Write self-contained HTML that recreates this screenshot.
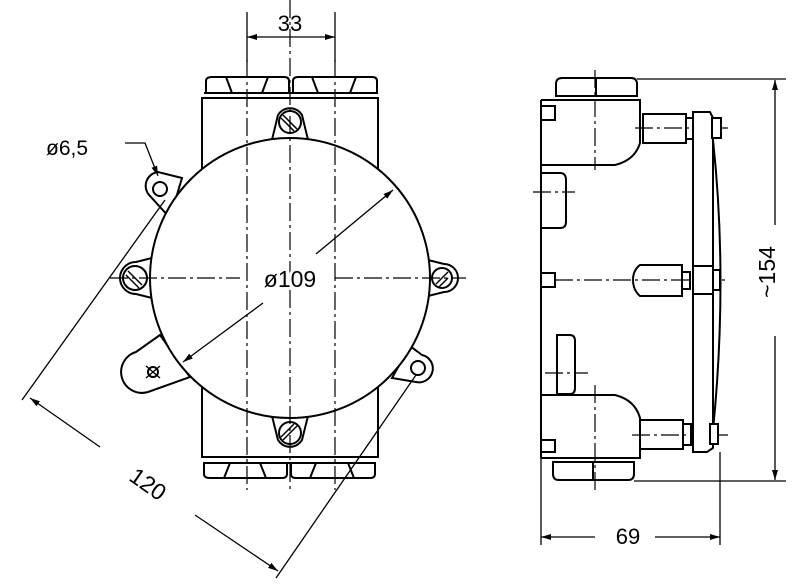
<!DOCTYPE html>
<html><head><meta charset="utf-8"><style>
html,body{margin:0;padding:0;background:#fff;}
svg{display:block;}
text{font-family:"Liberation Sans",sans-serif;fill:#000;}
</style></head><body>
<svg width="800" height="587" viewBox="0 0 800 587" xmlns="http://www.w3.org/2000/svg">
<defs>
<marker id="a" viewBox="0 0 10 10" refX="10" refY="5" markerWidth="10" markerHeight="10" orient="auto-start-reverse" markerUnits="userSpaceOnUse"><path d="M0,2 L10,5 L0,8 z" fill="#000"/></marker>
</defs>
<g fill="none" stroke="#000" stroke-width="2">
<rect x="202" y="98" width="176" height="359"/>
<path d="M206,93 L206,81 Q206,77 212,77 L284,77 Q289,77 289,81 L289,93 Z"/>
<path d="M293,93 L293,81 Q293,77 298,77 L372,77 Q377,77 377,81 L377,93 Z"/>
<path d="M226,77 L232,93 M268,77 L262,93 M312,77 L318,93 M356,77 L350,93"/>
<line x1="204" y1="93" x2="378" y2="93"/><line x1="204" y1="98" x2="378" y2="98"/>
<path d="M204,463 L204,474 Q204,478 210,478 L282,478 Q287,478 287,474 L287,463 Z"/>
<path d="M291,463 L291,474 Q291,478 296,478 L370,478 Q375,478 375,474 L375,463 Z"/>
<path d="M224,478 L230,463 M266,478 L260,463 M310,478 L316,463 M354,478 L348,463"/>
<line x1="204" y1="457" x2="376" y2="457"/><line x1="204" y1="463" x2="376" y2="463"/>
<g fill="#fff">
<path d="M270,148 L278,115 A14,14 0 0 1 302,115 L310,148 Z"/>
<path d="M270,408 L278,440 A14,14 0 0 0 302,440 L310,408 Z"/>
<path d="M160,256 L136,262 A16,16 0 0 0 136,294 L160,300 Z"/>
<path d="M420,258 L444,264 A14,14 0 0 1 444,292 L420,298 Z"/>
<path d="M182,178 L158,172 A14,14 0 0 0 150,196 L170,218 Z"/>
<path d="M160,335 L136,352 A16,16 0 0 0 148,392 L190,377 Z"/>
<path d="M392,378 L410,346 L422,355 A12,12 0 0 1 416,382 Z"/>
</g>
<circle cx="290" cy="278" r="140" fill="#fff"/>
<g fill="#fff">
<circle cx="290" cy="122" r="11"/><circle cx="290" cy="433" r="11"/>
<circle cx="135" cy="278" r="12"/><circle cx="442" cy="278" r="10"/>
<circle cx="160" cy="189" r="7"/><circle cx="153" cy="372" r="5"/><circle cx="418" cy="368" r="7"/>
</g>
<path d="M283,115 L297,129 M281,118 L294,131 M283,440 L297,426 M281,437 L294,424 M128,271 L142,285 M126,275 L139,288 M436,284 L448,272 M439,287 L448,278" stroke-width="1.5"/>
<path d="M146,366 L160,378 M160,366 L146,378" stroke-width="1.3"/>
</g>
<g stroke="#000" stroke-width="1.2" stroke-dasharray="18,4,3,4" fill="none">
<line x1="290" y1="0" x2="290" y2="490"/>
<line x1="247" y1="60" x2="247" y2="490"/>
<line x1="335" y1="60" x2="335" y2="490"/>
<line x1="110" y1="278" x2="240" y2="278"/>
<line x1="335" y1="278" x2="466" y2="278"/>
<line x1="555" y1="280" x2="725" y2="280"/>
<line x1="595" y1="70" x2="595" y2="170"/>
<line x1="595" y1="385" x2="595" y2="490"/>
<line x1="635" y1="128" x2="728" y2="128"/>
<line x1="632" y1="435" x2="728" y2="435"/>
<line x1="533" y1="192" x2="575" y2="192"/>
<line x1="545" y1="373" x2="588" y2="373"/>
</g>
<g stroke="#000" stroke-width="1.3" fill="none">
<line x1="247" y1="12" x2="247" y2="62"/><line x1="335" y1="12" x2="335" y2="62"/>
<line x1="247" y1="37" x2="335" y2="37" marker-start="url(#a)" marker-end="url(#a)"/>
<line x1="316" y1="254" x2="393" y2="190" marker-end="url(#a)"/>
<line x1="263" y1="303" x2="183" y2="362" marker-end="url(#a)"/>
<polyline points="125,143 145,143 158,176" marker-end="url(#a)"/>
<line x1="165" y1="200" x2="22" y2="400"/>
<line x1="416" y1="375" x2="276" y2="578"/>
<line x1="30" y1="398" x2="100" y2="447" marker-start="url(#a)"/>
<line x1="195" y1="515" x2="278" y2="571" marker-end="url(#a)"/>
</g>
<text x="290" y="31" font-size="22" text-anchor="middle">33</text>
<text x="46" y="155" font-size="21">ø6,5</text>
<text x="290" y="287" font-size="23" text-anchor="middle" stroke="#fff" stroke-width="6" paint-order="stroke">ø109</text>
<text x="148" y="492" font-size="23" text-anchor="middle" transform="rotate(35 148 484)">120</text>
<g fill="none" stroke="#000" stroke-width="2">
<path d="M541,100 L640,100 L640,143 Q635,160 615,165 L541,165"/>
<path d="M541,100 L541,106 L555,106 L555,120 L541,120"/>
<path d="M541,395 L615,395 Q635,400 640,418 L640,458 L541,458"/>
<path d="M541,440 L555,440 L555,452 L541,452"/>
<line x1="541" y1="100" x2="541" y2="458"/>
<path d="M541,273 L555,273 L555,287 L541,287"/>
<path d="M542,173 L560,173 Q566,173 566,180 L566,222 Q566,228 560,228 L542,228"/>
<path d="M557,335 L570,335 Q575,335 575,341 L575,388 Q575,394 570,394 L557,394 Z"/>
<path d="M556,96 L556,84 Q556,78 562,78 L631,78 Q637,78 637,84 L637,96 Z"/><line x1="596" y1="78" x2="596" y2="96"/>
<line x1="558" y1="100" x2="636" y2="100"/>
<path d="M553,462 L553,474 Q553,480 559,480 L628,480 Q634,480 634,474 L634,462 Z"/><line x1="593" y1="462" x2="593" y2="480"/>
<rect x="643" y="114" width="43" height="29"/><rect x="686" y="118" width="8" height="21"/>
<rect x="640" y="420" width="43" height="29"/><rect x="683" y="424" width="8" height="21"/>
<path d="M640,265 L682,265 L682,296 L640,296 Q633,290 633,280 Q633,270 640,265 Z"/><rect x="682" y="272" width="8" height="17"/>
<path d="M693,112 L710,112 L713,118 L713,448 L707,452 L693,452 Z" fill="#fff"/>
<path d="M713,140 Q728,280 713,430"/>
<rect x="712" y="118" width="9" height="20" fill="#fff"/><rect x="710" y="424" width="8" height="20" fill="#fff"/>
<rect x="693" y="266" width="20" height="28" fill="#fff"/><rect x="713" y="270" width="7" height="20" fill="#fff"/>
</g>
<g stroke="#000" stroke-width="1.3" fill="none">
<line x1="637" y1="79" x2="786" y2="79"/><line x1="634" y1="481" x2="786" y2="481"/>
<line x1="775" y1="80" x2="775" y2="225" marker-start="url(#a)"/>
<line x1="775" y1="336" x2="775" y2="480" marker-end="url(#a)"/>
<line x1="541" y1="458" x2="541" y2="545"/><line x1="720" y1="452" x2="720" y2="545"/>
<line x1="541" y1="537" x2="595" y2="537" marker-start="url(#a)"/>
<line x1="655" y1="537" x2="720" y2="537" marker-end="url(#a)"/>
</g>
<text x="628" y="544" font-size="22" text-anchor="middle">69</text>
<text x="783" y="280" font-size="23" text-anchor="middle" transform="rotate(-90 775 280)">~154</text>
</svg>
</body></html>
